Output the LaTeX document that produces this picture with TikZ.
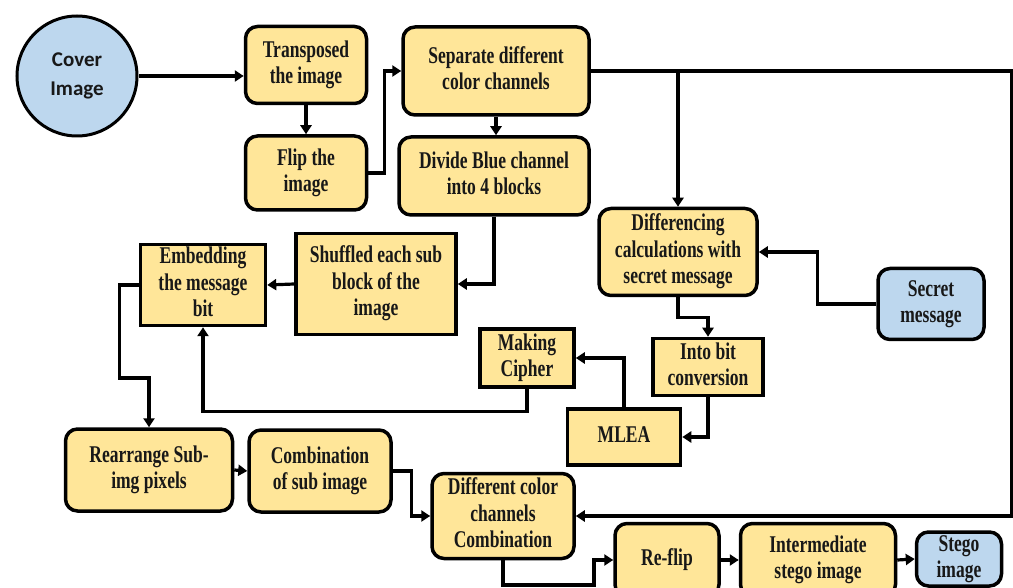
\documentclass[tikz,border=0pt]{standalone}
\usepackage{fontspec}
\usepackage{graphicx}
\newfontfamily\tnrfont{Liberation Serif}[BoldFont={Liberation Serif Bold}]
\newfontfamily\coverfont{Carlito}
\usetikzlibrary{arrows.meta}
\definecolor{boxy}{HTML}{FFE699}
\definecolor{boxb}{HTML}{BDD7EE}
\definecolor{txt}{HTML}{181818}
\newcommand\cz[1]{\scalebox{0.73}[1]{\begin{tabular}{@{}c@{}}#1\end{tabular}}}
\begin{document}
\begin{tikzpicture}[x=1pt,y=-1pt,
  base/.style={draw=black,line width=3.5pt,fill=boxy,align=center,inner sep=0pt,
    font=\tnrfont\fontsize{24}{26.5}\selectfont\bfseries,text=txt},
  rbox/.style={base,rounded corners=12pt},
  sbox/.style={base},
  bbox/.style={rbox,fill=boxb},
  conn/.style={line width=3.2pt,-{Triangle[length=9pt,width=11pt]}}]
\useasboundingbox (0,0) rectangle (1013,588);
\clip (0,0) rectangle (1013,588);

\node[circle,draw=black,line width=3pt,fill=boxb,minimum size=120pt,inner sep=0pt,align=center,
  font=\coverfont\fontsize{21}{29}\selectfont\bfseries,text=txt] (cover) at (77,76) {Cover\\Image};

\node[rbox,minimum width=121pt,minimum height=77pt] (trans) at (306,65) {\cz{Transposed\\the image}};
\node[rbox,minimum width=121pt,minimum height=74pt] (flip) at (306,173) {\cz{Flip the\\image}};
\node[rbox,minimum width=186pt,minimum height=88pt] (sep) at (496,71) {\cz{Separate different\\color channels}};
\node[rbox,minimum width=190pt,minimum height=78pt] (div) at (494,176) {\cz{Divide Blue channel\\into 4 blocks}};
\node[rbox,minimum width=158pt,minimum height=87pt] (diff) at (678,252) {\cz{Differencing\\calculations with\\secret message}};
\node[bbox,minimum width=106pt,minimum height=71pt] (secret) at (931,304) {\cz{Secret\\message}};
\node[sbox,minimum width=160pt,minimum height=101pt] (shuf) at (376,284) {\cz{Shuffled each sub\\block of the\\image}};
\node[sbox,minimum width=125pt,minimum height=81pt] (emb) at (203,285) {\cz{Embedding\\the message\\bit}};
\node[sbox,minimum width=94pt,minimum height=58pt] (cipher) at (527,358) {\cz{Making\\Cipher}};
\node[sbox,minimum width=110pt,minimum height=57pt] (intobit) at (708,367) {\cz{Into bit\\conversion}};
\node[sbox,minimum width=113pt,minimum height=56pt] (mlea) at (624,437) {\cz{MLEA}};
\node[rbox,minimum width=167pt,minimum height=82pt] (rearr) at (149,470) {\cz{Rearrange Sub-\\img pixels}};
\node[rbox,minimum width=142pt,minimum height=82pt] (comb) at (320,471) {\cz{Combination\\of sub image}};
\node[rbox,minimum width=142pt,minimum height=85pt] (diffcomb) at (503,516) {\cz{Different color\\channels\\Combination}};
\node[rbox,minimum width=104pt,minimum height=73pt] (reflip) at (667,560) {\cz{Re-flip}};
\node[rbox,minimum width=155pt,minimum height=73pt] (inter) at (818,560) {\cz{Intermediate\\stego image}};
\node[bbox,minimum width=85pt,minimum height=54pt] (stego) at (959,559) {\cz{Stego\\image}};

\coordinate (rc) at (1012,72);
\coordinate (b1) at (594,585);

\draw[conn] (cover.east) -- (cover.east -| trans.west);
\draw[conn] (trans.south) -- (flip.north);
\draw[conn] (flip.east) -- ++(16,0) |- (sep.west);
\draw[conn] (sep.south) -- (sep.south |- div.north);
\draw[conn] (sep.east) -- (sep.east -| rc) |- (diffcomb.east);
\draw[conn] (sep.east -| diff.north) -- (diff.north);
\draw[conn] (secret.west) -- ++(-59,0) |- (diff.east);
\draw[conn] (diff.south) -- ++(0,20) -| (intobit.north);
\draw[conn] (intobit.south) |- (mlea.east);
\draw[conn] (mlea.north) |- (cipher.east);
\draw[conn] (cipher.south) -- ++(0,23) -| (emb.south);
\draw[conn] (div.south) |- (shuf.east);
\draw[conn] (shuf.west) -- (emb.east);
\draw[conn] (emb.west) -- ++(-19,0) -- ++(0,93) -| (rearr.north);
\draw[conn] (rearr.east) -- (comb.west);
\draw[conn] (comb.east) -- ++(19,0) |- (diffcomb.west);
\draw[conn] (diffcomb.south) |- (b1) |- (reflip.west);
\draw[conn] (reflip.east) -- (inter.west);
\draw[conn] (inter.east) -- (stego.west);
\end{tikzpicture}
\end{document}
